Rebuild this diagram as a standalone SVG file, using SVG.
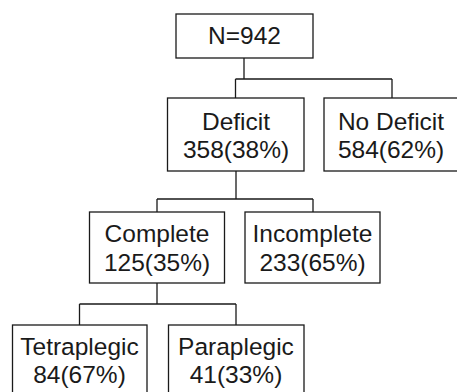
<svg xmlns="http://www.w3.org/2000/svg" width="457" height="392" viewBox="0 0 457 392">
<style>
.box{fill:#fff;stroke:#1a1a1a;stroke-width:1.3}
.t{font-family:"Liberation Sans",Arial,Helvetica,sans-serif;font-size:24.5px;fill:#1a1a1a;text-anchor:middle}
.c{fill:none;stroke:#1a1a1a;stroke-width:1.3}
</style>
<rect width="457" height="392" fill="#fff"/>
<g id="connectors">
<path class="c" d="M244,58 V79 M235.5,79 H392 M235.5,79 V98 M392,79 V98"/>
<path class="c" d="M236,171 V199 M157,199 H313 M157,199 V212 M313,199 V212"/>
<path class="c" d="M157,283 V304 M79.5,304 H236 M79.5,304 V325 M236,304 V325"/>
</g>
<g id="n942">
<rect class="box" x="176" y="14" width="137" height="44"/>
<text class="t" x="244.5" y="44">N=942</text>
</g>
<g id="deficit">
<rect class="box" x="167.5" y="98" width="136.5" height="73"/>
<text class="t" x="236" y="129.5">Deficit</text>
<text class="t" x="236" y="158">358(38%)</text>
</g>
<g id="nodeficit">
<rect class="box" x="324" y="98" width="136" height="73"/>
<text class="t" x="391" y="129.5">No Deficit</text>
<text class="t" x="391" y="158">584(62%)</text>
</g>
<g id="complete">
<rect class="box" x="89.5" y="212" width="135" height="71"/>
<text class="t" x="157" y="241.5">Complete</text>
<text class="t" x="157" y="270.5">125(35%)</text>
</g>
<g id="incomplete">
<rect class="box" x="245" y="212" width="135" height="71"/>
<text class="t" x="312.5" y="241.5">Incomplete</text>
<text class="t" x="312.5" y="270.5">233(65%)</text>
</g>
<g id="tetraplegic">
<rect class="box" x="12.5" y="325" width="134.5" height="75"/>
<text class="t" x="79.5" y="354.5">Tetraplegic</text>
<text class="t" x="79.5" y="382.5">84(67%)</text>
</g>
<g id="paraplegic">
<rect class="box" x="168.5" y="325" width="135.5" height="75"/>
<text class="t" x="236" y="354.5">Paraplegic</text>
<text class="t" x="236" y="382.5">41(33%)</text>
</g>
</svg>
